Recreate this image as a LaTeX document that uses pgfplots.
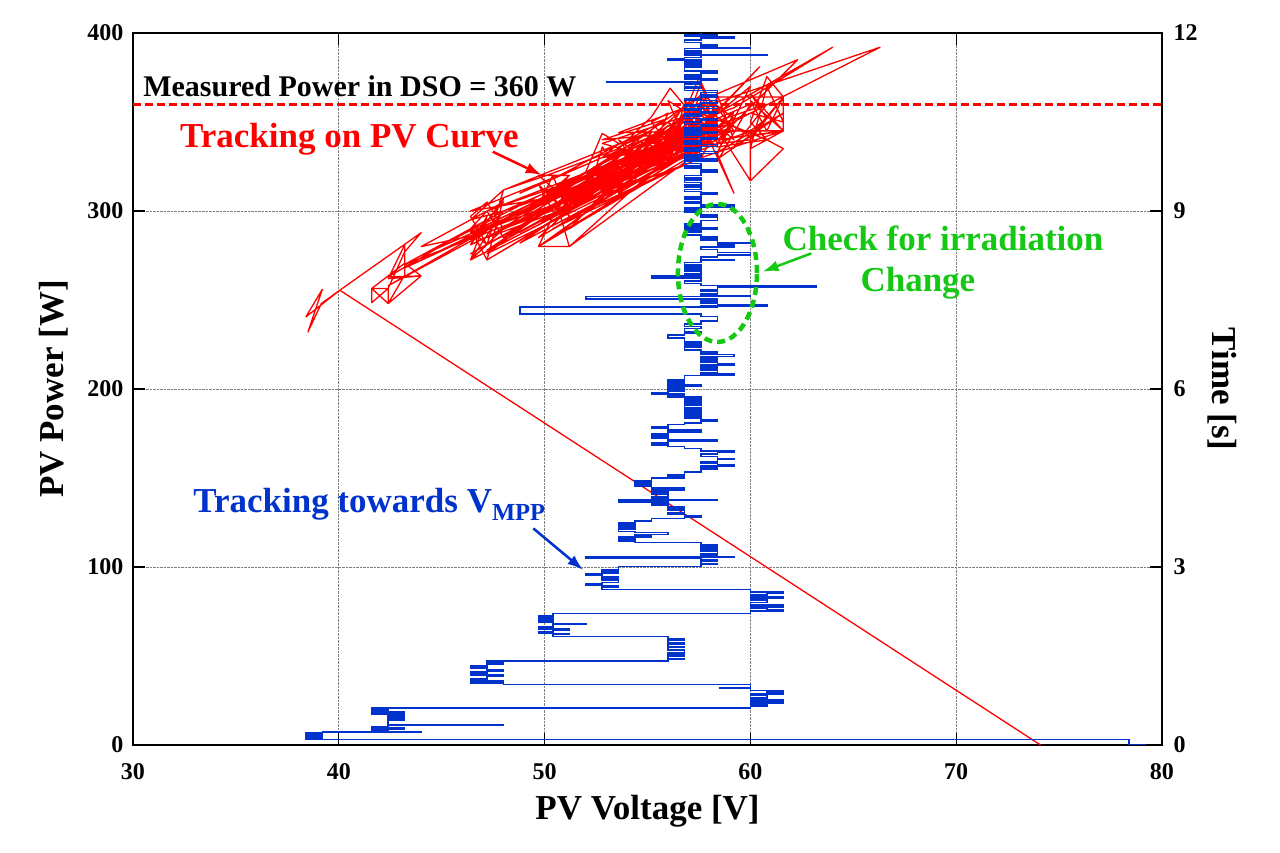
\documentclass[border=0pt]{standalone}
\usepackage{fontspec}
\setmainfont{Liberation Serif}
\usepackage{pgfplots}
\pgfplotsset{compat=1.18}
\usetikzlibrary{arrows.meta}
\definecolor{pvred}{RGB}{255,0,0}
\definecolor{pvblue}{RGB}{0,51,204}
\definecolor{pvgreen}{RGB}{20,200,20}
\begin{document}
\begin{tikzpicture}
\useasboundingbox (-133pt,-107pt) rectangle (1147pt,745pt);
\begin{axis}[
  at={(0pt,0pt)}, anchor=south west,
  scale only axis, width=1029pt, height=712pt,
  xmin=30, xmax=80, ymin=0, ymax=400,
  xtick={30,40,50,60,70,80}, ytick={0,100,200,300,400},
  xtick pos=both, ytick pos=left,
  tick align=inside, major tick length=12pt,
  grid=major, grid style={gray, densely dotted, line width=0.6pt},
  axis line style={line width=1.6pt}, tick style={black, line width=1.2pt},
  ticklabel style={font=\fontsize{24}{28}\selectfont\bfseries},
  xticklabel style={yshift=-15pt},
  yticklabel style={xshift=-6pt},
  /pgf/number format/assume math mode=true,
  xlabel={PV Voltage [V]}, ylabel={PV Power [W]},
  label style={font=\fontsize{35}{40}\selectfont\bfseries},
  xlabel style={at={(axis description cs:0.5,0)}, anchor=center, yshift=-66pt},
  ylabel style={at={(axis description cs:0,0.5)}, anchor=center, yshift=79pt},
  clip mode=individual,
]
\addplot[pvred, line width=1.3pt, line join=round] coordinates {
(74.1,0) (40.05,255.5) (38.4,240.5) (39.2,256) (38.5,232) (39.15,248) (40.05,255.5)
(44.0,287.8) (43.2,277) (42.4,256.5) (41.6,256.5) (41.6,248.5) (42.4,256.5) (42.4,248)
(43.2,264) (43.2,281) (42.4,262) (44.0,263.5) (42.4,248) (41.6,256.5) (43.2,270.6)
(44.0,263.5) (42.4,263) (46.4,290) (47.2,281) (46.4,272.5) (48.0,300) (43.2,270)
(60.0,345) (60.8,352) (60.0,366) (61.6,345) (60.0,342) (61.6,364) (60.8,375.5)
(60.0,350) (60.8,340) (61.6,335) (60.0,317) (60.0,342) (58.5,330) (60.0,360)
(48.0,300) (46.4,295) (48.0,311.8) (47.2,281) (46.4,297) (47.2,305) (48.0,290)
(46.4,272.5) (47.2,297) (46.4,281) (48.0,307) (47.2,272.5) (46.4,290) (47.2,300) (48.0,285)
(56.0,340) (56.8,348) (56.0,330) (56.8,336) (56.0,350) (56.8,342) (56.0,325) (56.8,355)
(56.0,345) (56.8,330)
(50.4,310) (51.2,320) (49.7,303) (50.4,320) (51.2,297) (49.7,315) (50.4,300) (52.0,315)
(50.4,297) (49.7,280) (51.2,280) (50.4,312)
(60.0,355) (61.6,350) (60.8,370) (60.0,335) (61.6,345) (60.0,362) (60.8,345) (61.6,364) (60.0,340)
(52.8,330) (53.6,338) (52.8,343.6) (52.0,322) (52.8,312) (53.6,325) (52.8,336) (52.0,305)
(52.8,320) (53.6,332)
(57.6,350) (58.4,358) (57.6,340) (58.4,345) (57.6,365) (52.0,320) (59.2,350) (58.4,338)
(57.6,355) (58.4,362) (57.6,343)
(54.4,333) (53.6,322) (54.4,340) (53.6,336) (55.2,345) (54.4,318) (56.0,338) (54.4,328)
(53.6,340) (55.2,326)
(56.8,352) (57.6,346) (56.8,333) (56.0,345) (56.8,360) (56.0,330) (55.2,340) (53.6,318)
(58.4,348) (56.0,338) (55.2,350)
(56.0,355) (55.2,333) (56.8,342) (54.4,330) (55.2,345) (54.4,340) (56.8,330)
(57.6,360) (58.4,348) (59.2,340) (58.4,365) (57.6,338) (59.2,356) (58.4,332) (59.2,310) (57.6,350)
(56.0,362) (56.8,340) (55.2,328) (57.6,345) (58.4,355) (64.0,392) (59.2,358) (56.8,348)
(57.6,372) (58.4,340) (61.6,345) (61.6,364) (58.4,364) (57.6,336) (56.8,355) (66.3,392)
(59.5,352) (56.8,335) (57.6,358) (60.0,342) (60.0,317) (58.4,346) (56.8,362) (57.6,330)
(61.6,345) (58.4,345) (57.6,350) (56.0,332) (57.5,375) (58.4,352) (56.8,342) (57.6,362)
(62.3,385) (58.4,340) (56.8,350) (58.4,336) (60.8,340) (57.6,355) (56.8,333) (58.4,358)
(59.2,345) (57.6,340) (56.8,360) (58.4,350)
(57.6,345) (47.2,272.5) (56.8,338) (48.8,288) (58.4,352) (49.7,280) (57.6,334) (51.2,280)
(56.0,330) (46.4,272.5) (55.2,325) (50.4,297) (57.6,350) (52.0,305) (56.8,345) (53.6,318)
(58.4,340) (48.0,300) (56.0,340) (52.8,312) (57.6,358) (47.2,290) (56.8,330) (50.4,310)
(55.2,345) (48.0,311.8) (50.1,320) (53.6,335) (55.2,353) (56.1,369) (57.6,348) (52.0,318)
(54.4,328) (49.7,305) (51.2,320) (49.7,320) (51.2,305) (56.8,340) (46.4,281) (57.6,342)
(47.2,300) (58.4,350) (52.8,330) (56.0,336) (44.0,275) (56.8,350) (48.8,295) (57.6,338)
(53.6,326) (58.4,346) (50.4,303) (56.8,344) (46.4,288) (55.2,336) (52.0,300) (57.6,352)
(49.7,292) (56.0,348) (51.2,290) (58.4,343) (53.6,310) (56.8,352) (47.2,278) (55.2,330)
(52.8,338) (57.6,356) (54.4,322) (59.2,348) (50.4,285) (56.0,334) (48.0,295) (57.6,340)
(55.2,338) (60.8,360) (59.2,336) (61.6,355) (58.4,333) (60.0,370) (57.6,347) (60.45,381)
(58.4,356) (56.8,346) (57.6,366) (59.2,352) (56.8,338) (58.4,349)
(43.2,268) (48.0,295) (42.4,258) (47.2,288) (44.0,280) (48.0,305) (46.4,284) (53.6,330)
(47.2,276) (56.0,326) (48.8,282) (55.2,332) (46.4,276) (52.8,318) (49.7,285) (57.6,338)
(50.4,290) (56.8,326) (47.2,285) (54.4,336) (51.2,300) (58.4,342) (48.0,290) (53.6,314)
(46.4,300) (52.0,326) (48.8,310) (55.2,342) (50.4,318) (56.0,352) (52.8,340) (57.6,345)
(53.6,344) (56.8,358) (52.0,310) (56.0,322) (50.4,292) (57.6,330) (58.4,346)
};
\addplot[pvred, line width=2.8pt, dash pattern=on 8pt off 4pt] coordinates {(30,360) (80,360)};
\node[anchor=base west, font=\fontsize{30}{36}\selectfont\bfseries, inner sep=0pt] at (axis cs:30.49,364.6) {Measured Power in DSO = 360 W};
\node[anchor=base west, font=\fontsize{35}{40}\selectfont\bfseries, text=pvred, inner sep=0pt] at (axis cs:32.28,335.8) {Tracking on PV Curve};
\draw[pvred, line width=2.5pt, -{Latex[length=16pt,width=11pt]}] (axis cs:47.48,333.3) -- (axis cs:49.86,320.2);
\node[anchor=base, font=\fontsize{35}{40}\selectfont\bfseries, text=pvgreen, inner sep=0pt] at (axis cs:69.36,278) {Check for irradiation};
\node[anchor=base, font=\fontsize{35}{40}\selectfont\bfseries, text=pvgreen, inner sep=0pt] at (axis cs:68.14,254.5) {Change};
\draw[pvgreen, line width=2.5pt, -{Latex[length=16pt,width=11pt]}] (axis cs:62.96,276.2) -- (axis cs:60.59,265.9);
\node[anchor=base west, font=\fontsize{35}{40}\selectfont\bfseries, text=pvblue, inner sep=0pt] at (axis cs:32.92,130.5) {Tracking towards V\textsubscript{MPP}};
\draw[pvblue, line width=2.5pt, -{Latex[length=16pt,width=11pt]}] (axis cs:49.45,121.7) -- (axis cs:51.88,98.3);
\end{axis}
\begin{axis}[
  at={(0pt,0pt)}, anchor=south west,
  scale only axis, width=1029pt, height=712pt,
  xmin=30, xmax=80, ymin=0, ymax=12,
  axis y line*=right, axis x line=none,
  ytick={0,3,6,9,12},
  tick align=inside, major tick length=12pt,
  axis line style={line width=1.6pt}, tick style={black, line width=1.2pt},
  ticklabel style={font=\fontsize{24}{28}\selectfont\bfseries},
  yticklabel style={xshift=8pt},
  /pgf/number format/assume math mode=true,
  ylabel={Time [s]},
  ylabel style={font=\fontsize{35}{40}\selectfont\bfseries, at={(axis description cs:1,0.5)}, anchor=center, rotate=180, yshift=60pt},
  clip mode=individual,
]
\addplot[pvblue, line width=1.6pt, const plot mark left] coordinates {
(79.2,0.01) (78.4,0.09) (38.4,0.12) (39.2,0.14) (38.4,0.16) (39.2,0.18) (38.4,0.20) (39.2,0.224)
(44.0,0.23) (42.4,0.25) (41.6,0.27) (43.2,0.29) (41.6,0.31) (42.4,0.34) (48.0,0.345) (42.4,0.42)
(43.2,0.44) (42.4,0.46) (43.2,0.48) (42.4,0.50) (43.2,0.52) (41.6,0.54) (43.2,0.56) (41.6,0.58)
(42.4,0.60) (41.6,0.62)
(60.0,0.66) (60.8,0.68) (60.0,0.70) (61.6,0.72) (60.0,0.74) (61.6,0.76) (60.8,0.78) (60.0,0.80)
(60.8,0.84) (60.0,0.86) (61.6,0.88) (60.8,0.90) (61.6,0.92) (60.0,0.955) (58.5,0.96) (60.0,1.02)
(48.0,1.04) (46.4,1.06) (48.0,1.08) (47.2,1.10) (46.4,1.12) (47.2,1.16) (48.0,1.18) (46.4,1.20)
(47.2,1.22) (46.4,1.24) (48.0,1.26) (47.2,1.30) (46.4,1.33) (47.2,1.36) (48.0,1.38) (47.2,1.416)
(56.0,1.44) (56.8,1.46) (56.0,1.50) (56.8,1.52) (56.0,1.55) (56.8,1.60) (56.0,1.64) (56.8,1.66)
(56.0,1.70) (56.8,1.72) (56.0,1.76) (56.8,1.79) (56.0,1.826)
(50.4,1.86) (51.2,1.88) (49.7,1.90) (50.4,1.94) (51.2,1.96) (49.7,1.99) (50.4,2.03) (52.0,2.05)
(50.4,2.07) (49.7,2.10) (50.4,2.12) (49.7,2.14) (50.4,2.16) (49.7,2.18) (50.4,2.219)
(60.0,2.26) (61.6,2.28) (60.8,2.30) (60.0,2.33) (61.6,2.36) (60.0,2.40) (60.8,2.44) (60.0,2.48)
(61.6,2.50) (60.0,2.53) (60.8,2.56) (61.6,2.58) (60.0,2.62)
(52.8,2.66) (53.6,2.68) (52.8,2.70) (52.0,2.72) (52.8,2.74) (53.6,2.77) (52.8,2.80) (53.6,2.83)
(52.8,2.86) (52.0,2.88) (52.8,2.90) (53.6,2.93) (52.8,2.96) (53.6,3.006)
(57.6,3.04) (58.4,3.06) (57.6,3.09) (58.4,3.12) (57.6,3.15) (52.0,3.17) (59.2,3.175) (58.4,3.20)
(57.6,3.23) (58.4,3.26) (57.6,3.29) (58.4,3.32) (57.6,3.35) (58.4,3.38) (57.6,3.41)
(54.4,3.44) (53.6,3.46) (54.4,3.48) (53.6,3.51) (55.2,3.53) (54.4,3.55) (56.0,3.58) (54.4,3.60)
(53.6,3.63) (54.4,3.66) (53.6,3.69) (54.4,3.72) (53.6,3.75) (54.4,3.78) (55.2,3.82)
(56.8,3.84) (57.6,3.86) (56.8,3.89) (56.0,3.92) (56.8,3.95) (56.0,3.98) (56.8,4.01) (56.0,4.04)
(55.2,4.07) (56.0,4.10) (53.6,4.13) (58.4,4.135) (56.0,4.16) (55.2,4.19)
(56.0,4.22) (55.2,4.25) (56.0,4.27) (55.2,4.30) (56.8,4.33) (55.2,4.36) (54.4,4.38) (55.2,4.40)
(54.4,4.42) (55.2,4.44) (54.4,4.46) (55.2,4.50) (56.8,4.53)
(56.0,4.56) (56.8,4.60) (57.6,4.64) (58.4,4.67) (57.6,4.70) (59.2,4.72) (58.4,4.75) (57.6,4.78)
(58.4,4.81) (59.2,4.83) (58.4,4.86) (57.6,4.90) (58.4,4.93) (59.2,4.96) (57.6,5.00)
(56.8,5.03) (56.0,5.06) (55.2,5.09) (56.0,5.12) (58.4,5.14) (56.0,5.17) (55.2,5.20) (56.0,5.22)
(55.2,5.25) (56.0,5.28) (57.6,5.31) (56.0,5.34) (55.2,5.37) (56.0,5.40) (56.8,5.43)
(57.6,5.46) (58.4,5.48) (57.6,5.51) (56.8,5.54) (57.6,5.57) (56.8,5.60) (57.6,5.63) (56.8,5.66)
(57.6,5.69) (56.8,5.72) (57.6,5.75) (56.8,5.78) (57.6,5.81) (56.8,5.84) (57.6,5.87)
(56.0,5.90) (56.8,5.92) (55.2,5.94) (56.0,5.96) (56.8,5.98) (56.0,6.00) (56.8,6.02) (56.0,6.05)
(57.6,6.07) (56.0,6.10) (56.8,6.13) (56.0,6.15) (56.8,6.23)
(59.2,6.25) (57.6,6.28) (58.4,6.31) (57.6,6.34) (58.4,6.37) (57.6,6.40) (59.2,6.43) (58.4,6.46)
(57.6,6.49) (58.4,6.52) (57.6,6.55) (59.2,6.58) (57.6,6.61) (58.4,6.63) (57.6,6.66)
(56.8,6.70) (57.6,6.72) (56.8,6.74) (57.6,6.76) (56.8,6.78) (57.6,6.80) (56.8,6.86) (56.0,6.91)
(56.8,6.94) (57.6,6.97) (56.8,7.02) (57.6,7.05) (56.8,7.10) (57.6,7.15) (58.4,7.22) (57.6,7.26)
(48.8,7.38) (58.4,7.385) (57.6,7.40) (60.8,7.42) (58.4,7.45) (57.6,7.48) (58.4,7.52) (52.0,7.56)
(60.0,7.565) (57.6,7.60) (58.4,7.64) (57.6,7.67) (58.4,7.71) (63.2,7.74) (58.4,7.745) (57.6,7.78)
(56.8,7.82) (57.6,7.87) (55.2,7.90) (57.6,7.905) (56.8,7.94)
(57.6,7.98) (56.8,8.00) (57.6,8.02) (56.8,8.04) (57.6,8.06) (56.8,8.08) (57.6,8.10) (56.8,8.13)
(57.6,8.17) (59.2,8.175) (57.6,8.22) (58.4,8.26) (60.0,8.30) (58.4,8.35) (57.6,8.39) (59.2,8.43)
(58.4,8.45) (60.0,8.47) (58.4,8.50) (57.6,8.53) (58.4,8.56) (57.6,8.60)
(56.8,8.65) (57.6,8.67) (56.8,8.69) (58.4,8.71) (56.8,8.73) (57.6,8.75) (56.8,8.78) (57.6,8.84)
(58.4,8.89) (57.6,8.92) (58.4,8.94) (57.6,8.98) (56.8,9.01) (57.6,9.03) (56.8,9.05) (57.6,9.07)
(59.2,9.10) (57.6,9.13)
(56.8,9.16) (57.6,9.20) (56.8,9.24) (57.6,9.28) (58.4,9.30) (57.6,9.33) (56.8,9.36) (57.6,9.40)
(56.8,9.44) (57.6,9.48) (56.8,9.52) (57.6,9.56) (56.8,9.60) (57.6,9.66) (58.4,9.69) (57.6,9.72)
(56.8,9.76) (57.6,9.80) (56.8,9.84) (58.4,9.88) (56.8,9.91) (57.6,9.93) (56.8,9.95) (57.6,9.97)
(58.4,10.00) (56.8,10.03) (57.6,10.05) (56.8,10.07) (57.6,10.09) (58.4,10.12) (56.8,10.15) (57.6,10.17)
(56.8,10.19) (57.6,10.21) (58.4,10.24) (56.8,10.27) (57.6,10.29) (56.8,10.31) (58.4,10.34) (56.8,10.37)
(57.6,10.39) (56.8,10.41) (57.6,10.43) (58.4,10.46)
(56.8,10.50) (57.6,10.53) (58.4,10.56) (56.8,10.59) (57.6,10.62) (56.8,10.64) (58.4,10.67) (57.6,10.70)
(56.8,10.73) (58.4,10.76) (56.8,10.79) (57.6,10.82) (58.4,10.86) (56.8,10.89) (57.6,10.92)
(58.4,10.96) (57.6,11.00) (58.4,11.03) (56.8,11.07) (57.6,11.10) (56.8,11.14) (57.6,11.17) (53.0,11.18)
(56.8,11.185) (57.6,11.20) (58.4,11.22) (56.8,11.26) (57.6,11.28) (56.8,11.30) (57.6,11.33) (58.4,11.36)
(56.8,11.43) (57.6,11.45) (56.8,11.47) (57.6,11.49) (56.8,11.51) (57.6,11.54) (56.0,11.56) (56.8,11.59)
(57.6,11.62) (60.8,11.625) (56.8,11.64) (57.6,11.66) (56.8,11.68) (57.6,11.70) (56.8,11.74) (60.0,11.745)
(57.6,11.78) (58.4,11.80) (57.6,11.84) (56.8,11.88) (57.6,11.92) (59.2,11.94) (56.8,11.97) (58.4,11.975)
(57.6,12.0)
};
\draw[pvgreen, line width=4.5pt, dash pattern=on 8pt off 5pt] (axis cs:58.4,7.956) ellipse [x radius=39.5pt, y radius=69pt];
\end{axis}
\end{tikzpicture}
\end{document}
